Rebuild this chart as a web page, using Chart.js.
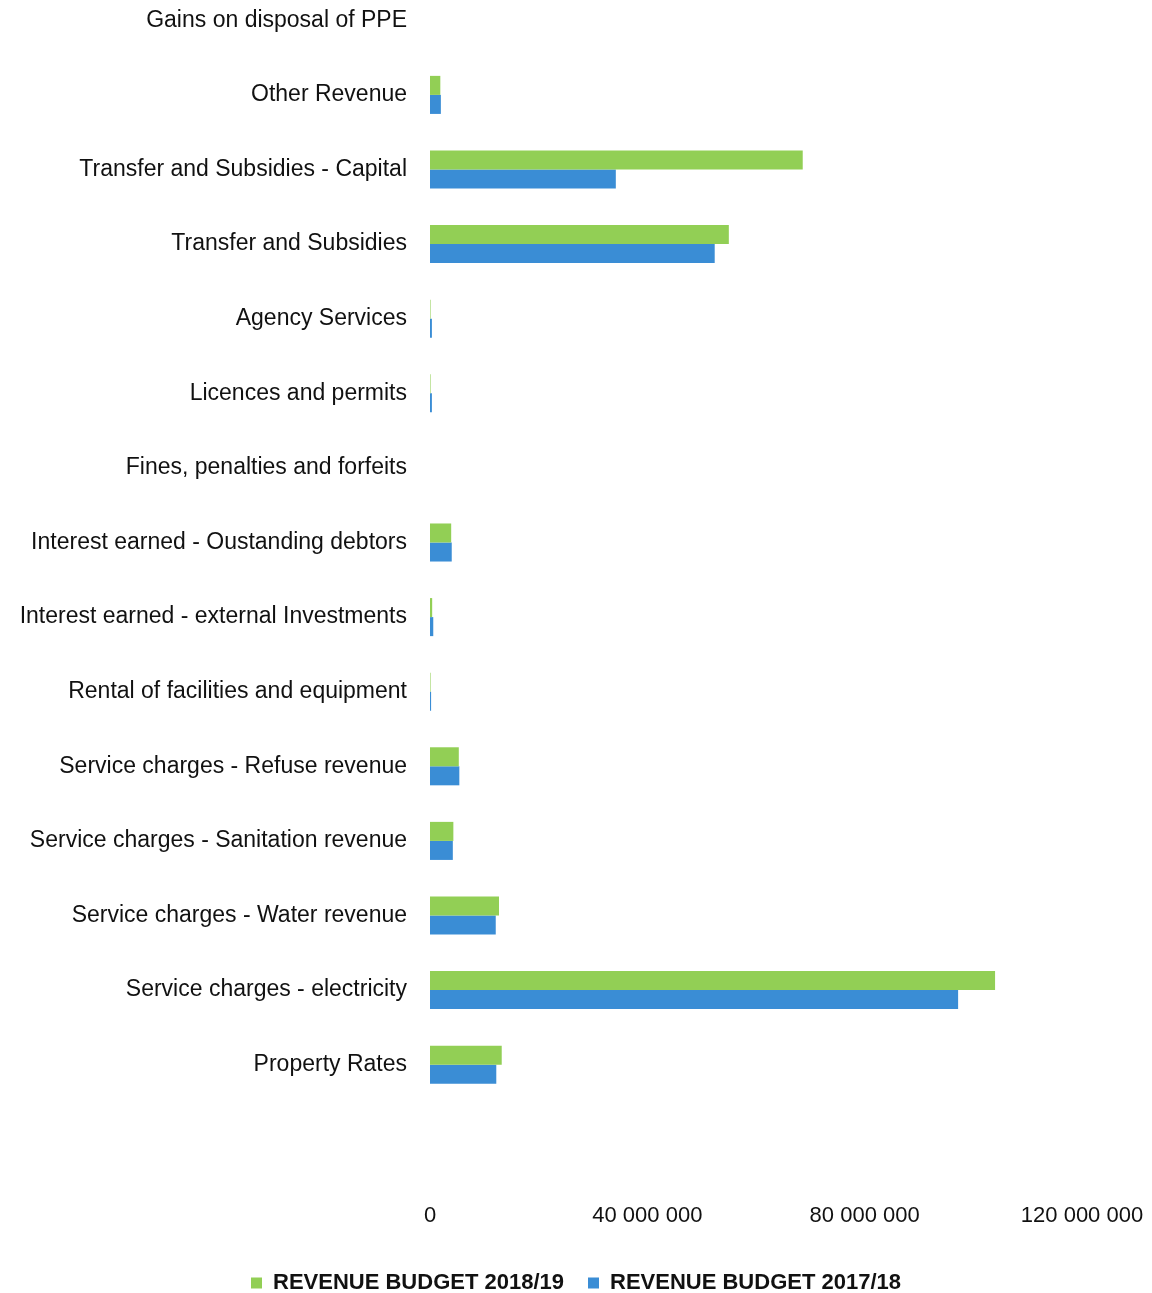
<!DOCTYPE html>
<html>
<head>
<meta charset="utf-8">
<script src="https://cdn.jsdelivr.net/npm/chart.js@4/dist/chart.umd.min.js"></script>
<style>
  html, body { margin: 0; padding: 0; background: #fff; overflow: hidden; }
  #wrap { position: absolute; left: 0; top: -17px; width: 1152px; height: 1321px; }
</style>
</head>
<body>
<div id="wrap"><canvas id="chart"></canvas></div>
<script>
// Revenue line items, listed top to bottom
const categories = [
  'Gains on disposal of PPE',
  'Other Revenue',
  'Transfer and Subsidies - Capital',
  'Transfer and Subsidies',
  'Agency Services',
  'Licences and permits',
  'Fines, penalties and forfeits',
  'Interest earned - Oustanding debtors',
  'Interest earned - external Investments',
  'Rental of facilities and equipment',
  'Service charges - Refuse revenue',
  'Service charges - Sanitation revenue',
  'Service charges - Water revenue',
  'Service charges - electricity',
  'Property Rates'
];

const budget2018 = [0, 1900000, 68600000, 55000000, 100000, 100000, 0, 3900000, 400000, 100000, 5300000, 4300000, 12700000, 104000000, 13200000];
const budget2017 = [0, 2000000, 34200000, 52400000, 350000, 350000, 0, 4000000, 600000, 200000, 5400000, 4200000, 12100000, 97200000, 12200000];

const seriesNames = ['REVENUE BUDGET 2018/19', 'REVENUE BUDGET 2017/18'];
const xTicks = [0, 40000000, 80000000, 120000000];

const FONT = "'Liberation Sans', Arial, sans-serif";

// thousands separated by spaces: 40 000 000
const fmt = v => String(v).replace(/\B(?=(\d{3})+(?!\d))/g, ' ');

new Chart(document.getElementById('chart'), {
  type: 'bar',
  data: {
    labels: categories,
    datasets: [
      { label: seriesNames[0], data: budget2018, backgroundColor: '#92CF55', borderWidth: 0 },
      { label: seriesNames[1], data: budget2017, backgroundColor: '#3A8DD5', borderWidth: 0 }
    ]
  },
  options: {
    indexAxis: 'y',
    responsive: true,
    maintainAspectRatio: false,
    animation: false,
    datasets: { bar: { barPercentage: 1.0, categoryPercentage: 0.51 } },
    layout: { padding: 0 },
    scales: {
      x: {
        min: 0,
        max: 120000000,
        afterBuildTicks: s => { s.ticks = xTicks.map(v => ({ value: v })); },
        afterFit: s => { s.height = 146; s.paddingLeft = 0; s.paddingRight = 70; },
        grid: { display: false, drawTicks: false },
        border: { display: false },
        ticks: {
          padding: 101,
          maxRotation: 0,
          color: '#111',
          font: { family: FONT, size: 22 },
          callback: v => fmt(v)
        }
      },
      y: {
        grid: { display: false, drawTicks: false },
        border: { display: false },
        afterFit: s => { s.width = 430; s.paddingTop = 0; s.paddingBottom = 0; },
        ticks: {
          padding: 23,
          color: '#111',
          font: { family: FONT, size: 23 }
        }
      }
    },
    plugins: {
      legend: {
        position: 'bottom',
        labels: {
          boxWidth: 11,
          boxHeight: 11,
          padding: 24,
          color: '#111',
          font: { family: FONT, size: 22, weight: 'bold' }
        }
      },
      tooltip: { enabled: false }
    }
  }
});
</script>
</body>
</html>
